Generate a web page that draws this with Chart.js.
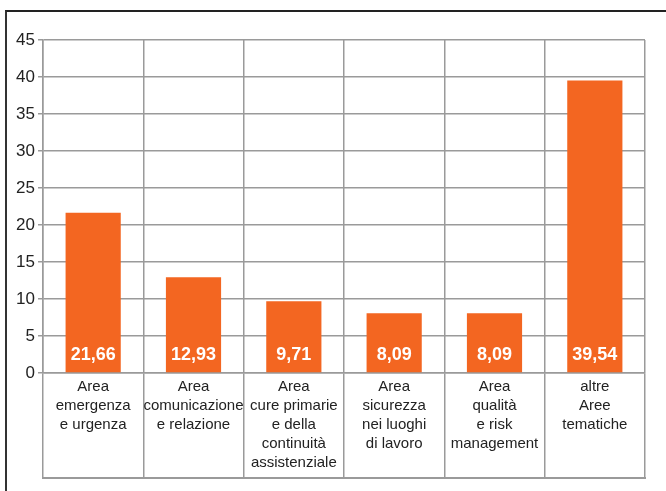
<!DOCTYPE html>
<html>
<head>
<meta charset="utf-8">
<script src="https://cdn.jsdelivr.net/npm/chart.js@4.4.0/dist/chart.umd.min.js"></script>
<style>
  html, body { margin: 0; padding: 0; background: #fff; }
  #frame {
    position: absolute; left: 5px; top: 10px; width: 661px; height: 481px;
    border-top: 2px solid #222; border-left: 2px solid #333;
  }
  #wrap { position: absolute; left: 0; top: 0; width: 666px; height: 491px; }
</style>
</head>
<body>
<div id="frame"></div>
<div id="wrap"><canvas id="myChart"></canvas></div>
<script>
const categorie = [
    ['Area', 'emergenza', 'e urgenza'],
    ['Area', 'comunicazione', 'e relazione'],
    ['Area', 'cure primarie', 'e della', 'continuità', 'assistenziale'],
    ['Area', 'sicurezza', 'nei luoghi', 'di lavoro'],
    ['Area', 'qualità', 'e risk', 'management'],
    ['altre', 'Aree', 'tematiche']
];
const valori = [21.66, 12.93, 9.71, 8.09, 8.09, 39.54];
const etichetteValori = ['21,66', '12,93', '9,71', '8,09', '8,09', '39,54'];
const tickY = [0, 5, 10, 15, 20, 25, 30, 35, 40, 45];

const grigio = '#9a9a9a';

// valori bianchi in fondo alle barre + linea di chiusura sotto le etichette
const pluginValori = {
    id: 'valori',
    afterDatasetsDraw(chart) {
        const c = chart.ctx;
        const meta = chart.getDatasetMeta(0);
        c.save();
        c.fillStyle = '#ffffff';
        c.font = 'bold 18px "Liberation Sans", Arial, sans-serif';
        c.textAlign = 'center';
        c.textBaseline = 'middle';
        meta.data.forEach(function (bar, i) {
            c.fillText(etichetteValori[i], bar.x, bar.base - 17);
        });
        c.restore();
    },
    afterDraw(chart) {
        const x = chart.scales.x;
        const c = chart.ctx;
        c.save();
        c.strokeStyle = grigio;
        c.lineWidth = 2;
        c.beginPath();
        c.moveTo(x.left - 1, x.bottom);
        c.lineTo(x.right + 1, x.bottom);
        c.stroke();
        c.restore();
    }
};

new Chart(document.getElementById('myChart'), {
    type: 'bar',
    data: {
        labels: categorie,
        datasets: [{
            data: valori,
            backgroundColor: '#F36621',
            barPercentage: 0.55,
            categoryPercentage: 1.0
        }]
    },
    options: {
        responsive: true,
        maintainAspectRatio: false,
        animation: false,
        layout: { padding: { left: 0, right: 21, top: 40, bottom: 13 } },
        plugins: {
            legend: { display: false },
            tooltip: { enabled: false }
        },
        scales: {
            x: {
                offset: true,
                grid: {
                    offset: true,
                    color: grigio,
                    lineWidth: 1.5,
                    tickLength: 105,
                    drawTicks: true
                },
                border: { color: grigio, width: 1.5 },
                ticks: {
                    color: '#222',
                    padding: -101,
                    maxRotation: 0,
                    autoSkip: false,
                    font: { family: '"Liberation Sans", Arial, sans-serif', size: 15, lineHeight: '19px' }
                },
                afterFit(scale) { scale.height = 105; }
            },
            y: {
                min: 0,
                max: 45,
                afterBuildTicks(scale) {
                    scale.ticks = tickY.map(v => ({ value: v }));
                },
                grid: {
                    color: grigio,
                    lineWidth: 1.5,
                    tickLength: 5
                },
                border: { color: grigio, width: 1.5 },
                ticks: {
                    color: '#222',
                    padding: 3,
                    font: { family: '"Liberation Sans", Arial, sans-serif', size: 17 }
                },
                afterFit(scale) { scale.width = 43; }
            }
        }
    },
    plugins: [pluginValori]
});
</script>
</body>
</html>
